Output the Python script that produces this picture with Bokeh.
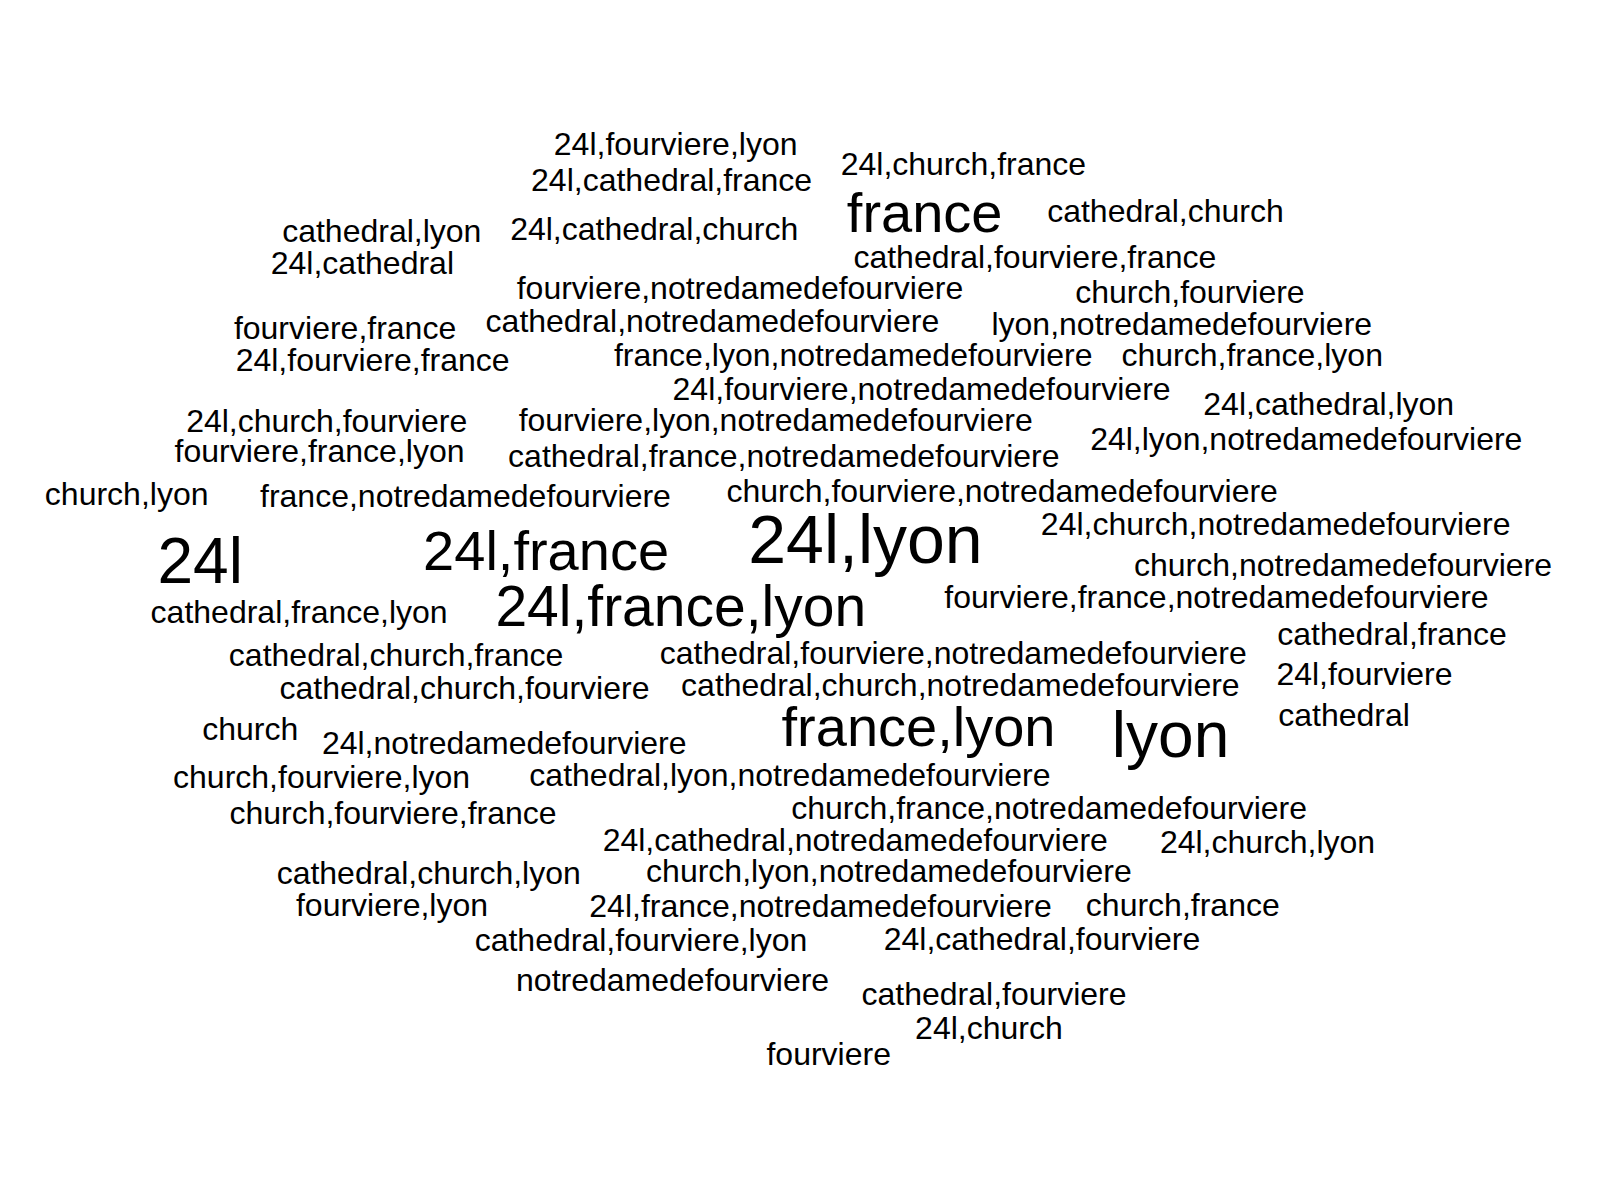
from bokeh.plotting import figure
from bokeh.models import ColumnDataSource, Range1d
from bokeh.core.properties import value
from bokeh.embed import file_html
from bokeh.resources import INLINE

words = ["24l,fourviere,lyon", "24l,cathedral,france", "24l,church,france", "france",
         "cathedral,church", "cathedral,lyon", "24l,cathedral,church", "24l,cathedral",
         "cathedral,fourviere,france", "fourviere,notredamedefourviere", "church,fourviere",
         "fourviere,france", "cathedral,notredamedefourviere", "lyon,notredamedefourviere",
         "24l,fourviere,france", "france,lyon,notredamedefourviere", "church,france,lyon",
         "24l,fourviere,notredamedefourviere", "24l,cathedral,lyon", "24l,church,fourviere",
         "fourviere,lyon,notredamedefourviere", "24l,lyon,notredamedefourviere",
         "fourviere,france,lyon", "cathedral,france,notredamedefourviere", "church,lyon",
         "france,notredamedefourviere", "church,fourviere,notredamedefourviere",
         "24l,church,notredamedefourviere", "24l", "24l,france", "24l,lyon",
         "church,notredamedefourviere", "24l,france,lyon", "fourviere,france,notredamedefourviere",
         "cathedral,france,lyon", "cathedral,france", "cathedral,church,france",
         "cathedral,fourviere,notredamedefourviere", "cathedral,church,fourviere",
         "cathedral,church,notredamedefourviere", "24l,fourviere", "cathedral", "church",
         "24l,notredamedefourviere", "france,lyon", "lyon", "church,fourviere,lyon",
         "cathedral,lyon,notredamedefourviere", "church,fourviere,france",
         "church,france,notredamedefourviere", "24l,cathedral,notredamedefourviere",
         "24l,church,lyon", "cathedral,church,lyon", "church,lyon,notredamedefourviere",
         "fourviere,lyon", "24l,france,notredamedefourviere", "church,france",
         "cathedral,fourviere,lyon", "24l,cathedral,fourviere", "notredamedefourviere",
         "cathedral,fourviere", "24l,church", "fourviere"]
word_x = [662, 658, 944, 906, 1142, 374, 641, 355, 1014, 725, 1166, 338, 698, 1158, 365, 836,
          1227, 903, 1302, 320, 760, 1280, 313, 768, 124, 456, 982, 1250, 196, 535, 848, 1316,
          667, 1192, 293, 1364, 388, 934, 455, 941, 1337, 1317, 245, 494, 900, 1147, 315, 774,
          385, 1028, 838, 1242, 420, 871, 384, 804, 1159, 628, 1021, 659, 974, 969, 812]
word_y = [141, 176, 161, 208, 207, 226, 224, 258, 252, 282, 286, 321, 314, 317, 353, 348, 348,
          381, 396, 412, 411, 430, 442, 447, 484, 486, 481, 513, 550, 539, 528, 554, 594, 585,
          600, 621, 642, 640, 674, 671, 660, 701, 714, 728, 712, 720, 761, 759, 797, 792, 823,
          825, 855, 853, 887, 888, 887, 921, 920, 960, 974, 1007, 1033]
freq = [1] * len(words)
for w, f in {"france": 4, "24l,france": 4, "24l,france,lyon": 4.1, "france,lyon": 4,
             "24l": 5, "lyon": 5, "24l,lyon": 5.5}.items():
    freq[words.index(w)] = f

src = ColumnDataSource(dict(
    word=words,
    x=[(v + 7.5) / 0.98 - 8 for v in word_x],
    y=[(v + 7.5) / 0.98 - 8 for v in word_y],
    size=["%dpx" % round(24 + 8 * f) for f in freq],
))

p = figure(width=1584, height=1184, output_backend="svg", toolbar_location=None,
           x_range=Range1d(0, 1584), y_range=Range1d(1184, 0), min_border=0)
p.axis.visible = False
p.grid.visible = False
p.outline_line_color = None
p.text(x="x", y="y", text="word", source=src, text_font_size="size",
       text_font=value("Liberation Sans"), text_align="center", text_baseline="middle",
       text_color="black")

open("out.html", "w").write(file_html(p, INLINE))
